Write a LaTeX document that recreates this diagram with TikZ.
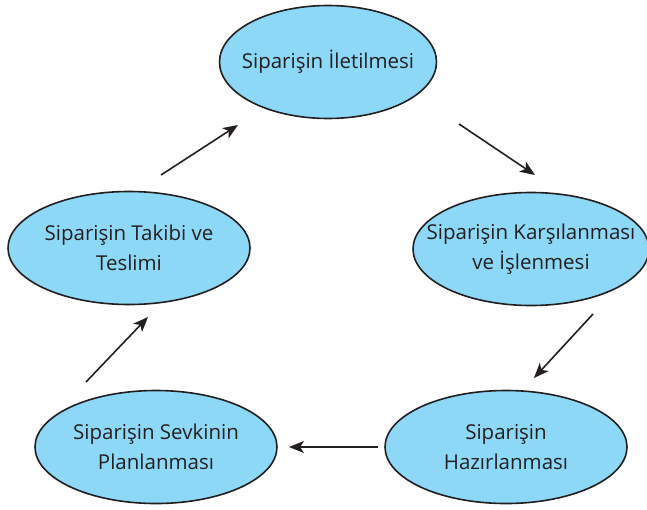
\documentclass[tikz,border=0pt]{standalone}
\usepackage{fontspec}
\setmainfont{Open Sans}
\usetikzlibrary{arrows.meta,shapes.geometric}
\definecolor{bubble}{HTML}{8DD8F7}
\definecolor{ink}{HTML}{231F20}
\tikzset{
  stage/.style={ellipse, draw=ink, line width=1.6pt, fill=bubble,
    minimum width=#1, minimum height=113pt, inner xsep=-40pt, inner ysep=-10pt,
    align=center, font=\fontsize{20.5}{30}\selectfont, text=ink},
  flow/.style={draw=ink, line width=1.6pt,
    -{Stealth[length=15pt, width=12pt, inset=4pt]}}
}
\begin{document}
\begin{tikzpicture}[x=1pt, y=-1pt]
  \useasboundingbox (0,0) rectangle (647,509);
  \begin{scope}
    \clip (0,0) rectangle (647,509);
    \node[stage=217pt] (s1) at (328,62) {Siparişin İletilmesi};
    \node[stage=236pt] (s2) at (531,249) {Siparişin Karşılanması\\ve İşlenmesi};
    \node[stage=242pt] (s3) at (506,447) {Siparişin\\Hazırlanması};
    \node[stage=242pt] (s4) at (156,447) {Siparişin Sevkinin\\Planlanması};
    \node[stage=242pt] (s5) at (129,248) {Siparişin Takibi ve\\Teslimi};
  \end{scope}
  \coordinate (a1s) at (459,124); \coordinate (a1e) at (535,175);
  \coordinate (a2s) at (593,314); \coordinate (a2e) at (534,378);
  \coordinate (a3s) at (378,447); \coordinate (a3e) at (289,447);
  \coordinate (a4s) at (86,382);  \coordinate (a4e) at (148,317);
  \coordinate (a5s) at (161,175); \coordinate (a5e) at (238,125);
  \draw[flow] (a1s) -- (a1e);
  \draw[flow] (a2s) -- (a2e);
  \draw[flow] (a3s) -- (a3e);
  \draw[flow] (a4s) -- (a4e);
  \draw[flow] (a5s) -- (a5e);
\end{tikzpicture}
\end{document}
